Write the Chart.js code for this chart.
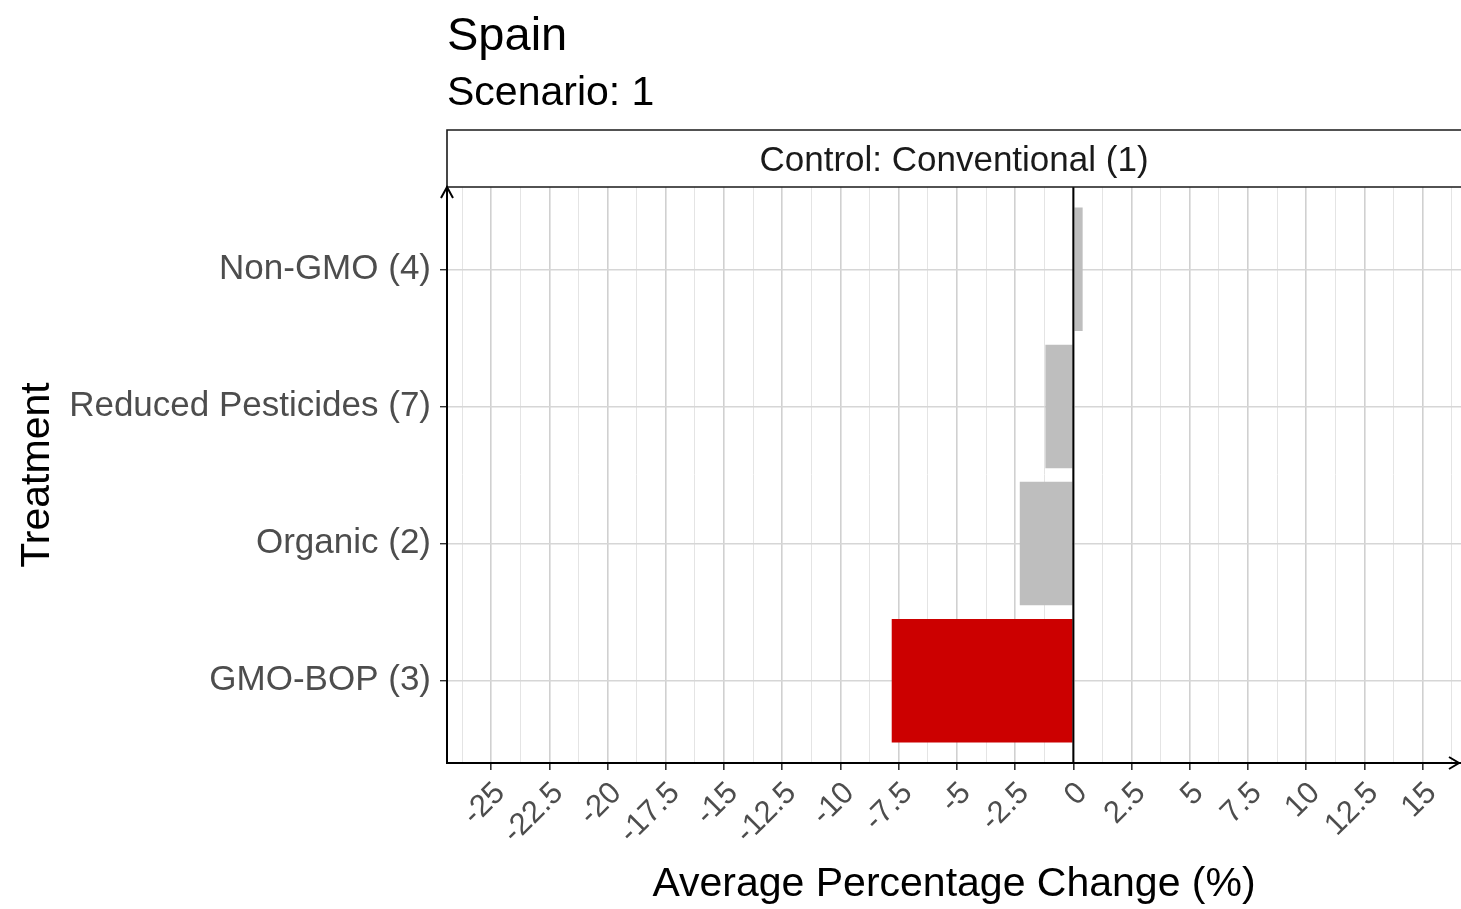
<!DOCTYPE html>
<html>
<head>
<meta charset="utf-8">
<title>Spain – Scenario 1</title>
<script src="https://cdn.jsdelivr.net/npm/chart.js@4.4.1/dist/chart.umd.min.js"></script>
<style>
  html, body { margin: 0; padding: 0; background: #fff; }
  canvas { display: block; }
</style>
</head>
<body>
<canvas id="chart" width="1461" height="909"></canvas>
<script>
const plotTitle = 'Spain';
const plotSubtitle = 'Scenario: 1';
const panelLabel = 'Control: Conventional (1)';

// listed bottom to top; each sits at position 1..n on the y scale
const treatments = ['GMO-BOP (3)', 'Organic (2)', 'Reduced Pesticides (7)', 'Non-GMO (4)'];
const avgChange = [-7.8, -2.3, -1.2, 0.4];
const highlighted = 'GMO-BOP (3)';

const xTicks = [-25, -22.5, -20, -17.5, -15, -12.5, -10, -7.5, -5, -2.5, 0, 2.5, 5, 7.5, 10, 12.5, 15];

const FONT = '"Liberation Sans", Arial, Helvetica, sans-serif';
const GREY_BAR = '#bebebe';
const RED_BAR = '#cc0000';

const isMajor = v => xTicks.some(t => Math.abs(t - v) < 1e-9);

// facet strip, plot titles, zero line and axis arrows
const decorations = {
  id: 'decorations',
  afterDatasetsDraw(chart) {
    const { ctx, chartArea: a, scales: { x } } = chart;
    ctx.save();
    // reference line at 0
    const x0 = x.getPixelForValue(0);
    ctx.strokeStyle = '#000';
    ctx.lineWidth = 2;
    ctx.beginPath();
    ctx.moveTo(x0, a.top);
    ctx.lineTo(x0, a.bottom);
    ctx.stroke();
    ctx.restore();
  },
  afterDraw(chart) {
    const { ctx, chartArea: a } = chart;
    ctx.save();

    // strip above the panel
    const stripTop = 130;
    ctx.strokeStyle = '#1a1a1a';
    ctx.lineWidth = 1.6;
    ctx.beginPath();
    ctx.moveTo(a.left, a.top);
    ctx.lineTo(a.left, stripTop);
    ctx.lineTo(chart.width + 2, stripTop);
    ctx.moveTo(a.left, a.top);
    ctx.lineTo(chart.width + 2, a.top);
    ctx.stroke();
    ctx.fillStyle = '#1a1a1a';
    ctx.font = '35px ' + FONT;
    ctx.textAlign = 'center';
    ctx.textBaseline = 'middle';
    ctx.fillText(panelLabel, (a.left + a.right) / 2, (stripTop + a.top) / 2 + 3);

    // titles
    ctx.fillStyle = '#000';
    ctx.textAlign = 'left';
    ctx.textBaseline = 'alphabetic';
    ctx.font = '47px ' + FONT;
    ctx.fillText(plotTitle, a.left, 50);
    ctx.font = '41px ' + FONT;
    ctx.fillText(plotSubtitle, a.left, 105);

    // arrow heads on both axes
    ctx.strokeStyle = '#000';
    ctx.lineWidth = 2;
    ctx.beginPath();
    ctx.moveTo(a.left - 6, a.top + 11);
    ctx.lineTo(a.left, a.top);
    ctx.lineTo(a.left + 6, a.top + 11);
    ctx.moveTo(a.right - 12, a.bottom - 6);
    ctx.lineTo(a.right - 2, a.bottom);
    ctx.lineTo(a.right - 12, a.bottom + 6);
    ctx.stroke();
    ctx.restore();
  }
};

new Chart(document.getElementById('chart'), {
  type: 'bar',
  data: {
    datasets: [{
      data: treatments.map((t, i) => ({ x: avgChange[i], y: i + 1 })),
      backgroundColor: c => treatments[c.dataIndex] === highlighted ? RED_BAR : GREY_BAR,
      borderWidth: 0,
      categoryPercentage: 0.9,
      barPercentage: 1
    }]
  },
  options: {
    indexAxis: 'y',
    responsive: false,
    animation: false,
    layout: { padding: { top: 187, right: 0, bottom: 0, left: 0 } },
    plugins: {
      legend: { display: false },
      tooltip: { enabled: false }
    },
    scales: {
      x: {
        type: 'linear',
        min: -26.9,
        max: 16.65,
        afterBuildTicks: s => {
          const ticks = [];
          for (let v = -26.25; v <= 16.25; v += 1.25) ticks.push({ value: v });
          s.ticks = ticks;
        },
        afterFit: s => {
          s.height = 146;
          s.paddingLeft = 0;
          s.paddingRight = 0;
        },
        border: { display: true, color: '#000', width: 2 },
        grid: {
          color: c => isMajor(c.tick.value) ? '#d0d0d0' : '#e4e4e4',
          lineWidth: c => isMajor(c.tick.value) ? 1.6 : 1,
          tickColor: c => isMajor(c.tick.value) ? '#333' : 'rgba(0,0,0,0)',
          tickLength: 7
        },
        ticks: {
          autoSkip: false,
          minRotation: 45,
          maxRotation: 45,
          padding: 5,
          labelOffset: 9,
          color: '#4d4d4d',
          font: { family: FONT, size: 31 },
          callback: v => isMajor(v) ? String(v) : ''
        },
        title: {
          display: true,
          text: 'Average Percentage Change (%)',
          color: '#000',
          font: { family: FONT, size: 41 },
          padding: { top: 0, bottom: 0 }
        }
      },
      y: {
        type: 'linear',
        min: 0.4,
        max: 4.6,
        offset: false,
        afterBuildTicks: s => { s.ticks = treatments.map((t, i) => ({ value: i + 1 })); },
        afterFit: s => {
          s.width = 447;
          s.paddingTop = 0;
          s.paddingBottom = 0;
        },
        border: { display: true, color: '#000', width: 2 },
        grid: {
          offset: false,
          color: '#d6d6d6',
          lineWidth: 1.4,
          tickColor: '#333',
          tickLength: 7
        },
        ticks: {
          padding: 9,
          color: '#4d4d4d',
          font: { family: FONT, size: 35 },
          callback: v => treatments[v - 1] || ''
        },
        title: {
          display: true,
          text: 'Treatment',
          color: '#000',
          font: { family: FONT, size: 41 },
          padding: { top: 13, bottom: 0 }
        }
      }
    }
  },
  plugins: [decorations]
});
</script>
</body>
</html>
